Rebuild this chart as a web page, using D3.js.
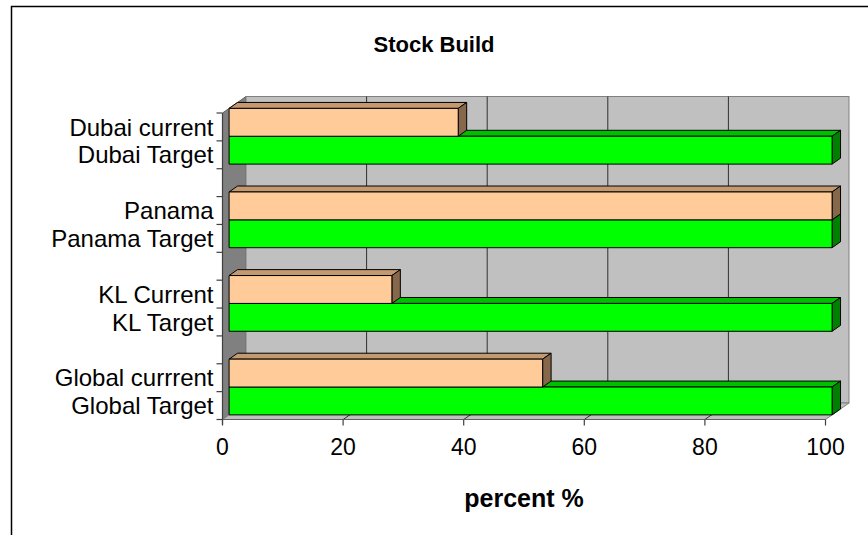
<!DOCTYPE html>
<html>
<head>
<meta charset="utf-8">
<script src="https://cdn.jsdelivr.net/npm/d3@7"></script>
<style>
  html, body { margin: 0; padding: 0; background: #fff; }
  svg { display: block; font-family: "Liberation Sans", Arial, sans-serif; }
</style>
</head>
<body>
<svg id="chart" width="868" height="535"></svg>
<script>
// ---- data ----
const title = "Stock Build";
const xAxisTitle = "percent %";
const categories = ["Dubai current", "Dubai Target", "", "Panama", "Panama Target", "",
                    "KL Current", "KL Target", "", "Global currrent", "Global Target"];
const values = [38, 100, null, 100, 100, null, 27, 100, null, 52, 100];
const seriesOf = ["current", "target", null, "current", "target", null,
                  "current", "target", null, "current", "target"];
const xTicks = [0, 20, 40, 60, 80, 100];

// ---- styles ----
const palette = {
  current: { front: "#ffcc99", top: "#c4996f", side: "#86674a" },
  target:  { front: "#00ff00", top: "#00bf00", side: "#008000" }
};

const svg = d3.select("#chart");

// frame
svg.append("path").attr("d", "M11.5,535 L11.5,6.5 L868,6.5")
  .attr("fill", "none").attr("stroke", "#000").attr("stroke-width", 1.5);

// geometry
const front = { left: 222.5, right: 825.5, top: 113, bottom: 419.5 };
const depth = { dx: 23.5, dy: -16.5 };
const f1 = 0.28, f2 = 0.64; // bar depth fractions

const x = d3.scaleLinear().domain([0, 100]).range([front.left, front.right]);
const y = d3.scaleBand().domain(d3.range(categories.length))
  .range([front.top, front.bottom]).padding(0);

// side wall
svg.append("path")
  .attr("d", `M${front.left},${front.top} L${front.left + depth.dx},${front.top + depth.dy}
              L${front.left + depth.dx},${front.bottom + depth.dy} L${front.left},${front.bottom} Z`)
  .attr("fill", "#808080").attr("stroke", "#606060").attr("stroke-width", 1);

// back wall
svg.append("rect")
  .attr("x", front.left + depth.dx).attr("y", front.top + depth.dy)
  .attr("width", front.right - front.left).attr("height", front.bottom - front.top)
  .attr("fill", "#c0c0c0").attr("stroke", "#808080").attr("stroke-width", 1);

// floor
svg.append("path")
  .attr("d", `M${front.left},${front.bottom} L${front.right},${front.bottom}
              L${front.right + depth.dx},${front.bottom + depth.dy} L${front.left + depth.dx},${front.bottom + depth.dy} Z`)
  .attr("fill", "#c0c0c0").attr("stroke", "#808080").attr("stroke-width", 1);

// gridlines on back wall and floor
const grid = svg.append("g");
xTicks.filter(t => t > 0 && t < 100).forEach(t => {
  const bx = x(t) + depth.dx;
  grid.append("line")
    .attr("x1", bx).attr("x2", bx)
    .attr("y1", front.top + depth.dy).attr("y2", front.bottom + depth.dy)
    .attr("stroke", "#303030").attr("stroke-width", 1);
  grid.append("line")
    .attr("x1", x(t)).attr("y1", front.bottom)
    .attr("x2", bx).attr("y2", front.bottom + depth.dy)
    .attr("stroke", "#303030").attr("stroke-width", 1);
});

// bars: draw bottom to top so upper bars occlude lower top faces
const bars = svg.append("g");
const idx = d3.range(categories.length).filter(i => values[i] != null).reverse();
idx.forEach(i => {
  const p = palette[seriesOf[i]];
  const y0 = y(i), h = y.bandwidth();
  const ax = depth.dx * f1, ay = depth.dy * f1;
  const bx = depth.dx * f2, by = depth.dy * f2;
  const xl = x(0), xr = x(values[i]);
  const g = bars.append("g").attr("stroke", "#000").attr("stroke-width", 1).attr("stroke-linejoin", "round");
  // top face
  g.append("path").attr("fill", p.top)
    .attr("d", `M${xl + ax},${y0 + ay} L${xr + ax},${y0 + ay} L${xr + bx},${y0 + by} L${xl + bx},${y0 + by} Z`);
  // side face
  g.append("path").attr("fill", p.side)
    .attr("d", `M${xr + ax},${y0 + ay} L${xr + bx},${y0 + by} L${xr + bx},${y0 + h + by} L${xr + ax},${y0 + h + ay} Z`);
  // front face
  g.append("rect").attr("fill", p.front)
    .attr("x", xl + ax).attr("y", y0 + ay)
    .attr("width", xr - xl).attr("height", h);
});

// y axis (front)
const yAxisG = svg.append("g");
yAxisG.append("line")
  .attr("x1", front.left).attr("x2", front.left)
  .attr("y1", front.top).attr("y2", front.bottom + 5)
  .attr("stroke", "#404040").attr("stroke-width", 1.2);
d3.range(categories.length + 1).forEach(k => {
  const ty = front.top + k * y.step();
  yAxisG.append("line")
    .attr("x1", front.left - 6).attr("x2", front.left)
    .attr("y1", ty).attr("y2", ty)
    .attr("stroke", "#404040").attr("stroke-width", 1.2);
});
categories.forEach((c, i) => {
  if (!c) return;
  yAxisG.append("text")
    .attr("x", front.left - 9)
    .attr("y", y(i) + y.bandwidth() / 2)
    .attr("dy", "0.36em")
    .attr("text-anchor", "end")
    .attr("font-size", 24)
    .attr("fill", "#000")
    .text(c);
});

// x axis (front)
const xAxisG = svg.append("g");
xAxisG.append("line")
  .attr("x1", front.left).attr("x2", front.right)
  .attr("y1", front.bottom).attr("y2", front.bottom)
  .attr("stroke", "#606060").attr("stroke-width", 1.2);
xTicks.forEach(t => {
  xAxisG.append("line")
    .attr("x1", x(t)).attr("x2", x(t))
    .attr("y1", front.bottom).attr("y2", front.bottom + 6)
    .attr("stroke", "#404040").attr("stroke-width", 1.2);
  xAxisG.append("text")
    .attr("x", x(t)).attr("y", 455)
    .attr("text-anchor", "middle")
    .attr("font-size", 23)
    .attr("fill", "#000")
    .text(t);
});

// titles
svg.append("text")
  .attr("x", 434).attr("y", 52)
  .attr("text-anchor", "middle")
  .attr("font-size", 22).attr("font-weight", "bold")
  .text(title);

svg.append("text")
  .attr("x", (front.left + front.right) / 2).attr("y", 507)
  .attr("text-anchor", "middle")
  .attr("font-size", 25).attr("font-weight", "bold")
  .text(xAxisTitle);
</script>
</body>
</html>
